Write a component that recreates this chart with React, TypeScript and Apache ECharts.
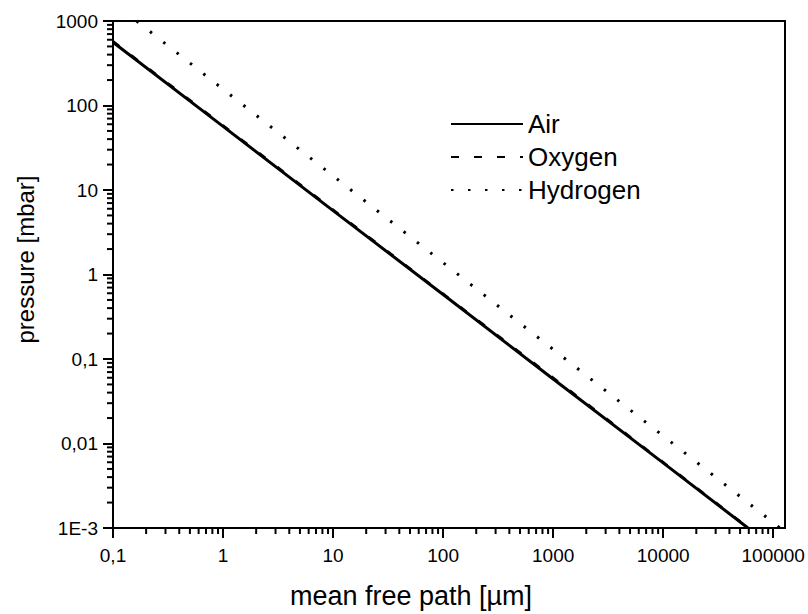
import React, { useEffect, useRef } from "react";
import * as echarts from "echarts";

// Data (mean free path in µm, pressure in mbar)
const airX = [0.1, 1, 10, 100, 1000, 10000, 59000];
const airP = [560, 56.6, 5.7, 0.58, 0.058, 0.0059, 0.001];
const oxygenX = [0.1, 1, 10, 100, 1000, 10000, 60000];
const oxygenP = [575, 58, 5.85, 0.59, 0.06, 0.006, 0.001];
const hydrogenX = [0.164, 1, 10, 100, 1000, 10000, 100000, 115000];
const hydrogenP = [1000, 156, 14.7, 1.38, 0.13, 0.0123, 0.00116, 0.001];

const xMajorTicks = [0.1, 1, 10, 100, 1000, 10000, 100000];
const xTickLabels = ["0,1", "1", "10", "100", "1000", "10000", "100000"];
const yMajorTicks = [0.001, 0.01, 0.1, 1, 10, 100, 1000];
const yTickLabels = ["1E-3", "0,01", "0,1", "1", "10", "100", "1000"];
const minorFactors = [2, 3, 4, 5, 6, 7, 8, 9];

const X_MIN = 0.1;
const X_MAX = 128000;
const Y_MIN = 0.001;
const Y_MAX = 1000;

const FONT = "'Liberation Sans', Arial, sans-serif";

function minorOf(majors: number[], max: number) {
  const out: number[] = [];
  majors.forEach((m) => minorFactors.forEach((f) => { const v = m * f; if (v <= max) out.push(v); }));
  return out;
}

function zipData(xs: number[], ys: number[]) {
  return xs.map((x, i) => [x, ys[i]]);
}

export default function App() {
  const ref = useRef<HTMLDivElement>(null);
  useEffect(() => {
    if (!ref.current) return;
    const chart = echarts.init(ref.current, undefined, { renderer: "svg" });
    const xLabelMap: Record<string, string> = {};
    xMajorTicks.forEach((v, i) => (xLabelMap[String(v)] = xTickLabels[i]));
    const yLabelMap: Record<string, string> = {};
    yMajorTicks.forEach((v, i) => (yLabelMap[String(v)] = yTickLabels[i]));

    const xMinorData = minorOf(xMajorTicks, X_MAX).map((v) => [v, Y_MIN]);
    const yMinorData = minorOf(yMajorTicks, Y_MAX).map((v) => [X_MIN, v]);

    chart.setOption({
      animation: false,
      backgroundColor: "#fff",
      grid: {
        left: 113,
        right: 23,
        top: 21,
        bottom: 81,
        show: true,
        borderColor: "#000",
        borderWidth: 2,
        backgroundColor: "transparent",
      },
      legend: {
        data: ["Air", "Oxygen", "Hydrogen"],
        orient: "vertical",
        left: 445,
        top: 106,
        itemWidth: 72,
        itemHeight: 14,
        itemGap: 7,
        textStyle: { fontFamily: FONT, fontSize: 26, color: "#000" },
        itemStyle: { color: "transparent", borderColor: "transparent", borderWidth: 0 },
        selectedMode: false,
      },
      xAxis: {
        type: "log",
        logBase: 10,
        min: X_MIN,
        max: X_MAX,
        splitLine: { show: false },
        name: "mean free path [µm]",
        nameLocation: "middle",
        nameGap: 54,
        nameTextStyle: { fontFamily: FONT, fontSize: 27, color: "#000", padding: [0, 76, 0, 0] },
        axisLine: { show: true, lineStyle: { color: "#000", width: 2 } },
        axisTick: { show: true, length: 10, lineStyle: { color: "#000", width: 2 }, customValues: xMajorTicks },
        axisLabel: {
          fontFamily: FONT,
          fontSize: 19,
          color: "#000",
          margin: 18,
          customValues: xMajorTicks,
          formatter: (v: number) => xLabelMap[String(v)] ?? "",
        },
      },
      yAxis: {
        type: "log",
        logBase: 10,
        min: Y_MIN,
        max: Y_MAX,
        splitLine: { show: false },
        name: "pressure [mbar]",
        nameLocation: "middle",
        nameGap: 76,
        nameRotate: 90,
        nameTextStyle: { fontFamily: FONT, fontSize: 24, color: "#000", padding: [0, 0, 0, 30] },
        axisLine: { show: true, lineStyle: { color: "#000", width: 2 } },
        axisTick: { show: true, length: 10, lineStyle: { color: "#000", width: 2 }, customValues: yMajorTicks },
        axisLabel: {
          fontFamily: FONT,
          fontSize: 19,
          color: "#000",
          margin: 15,
          customValues: yMajorTicks,
          formatter: (v: number) => yLabelMap[String(v)] ?? "",
        },
      },
      series: [
        {
          name: "Air",
          type: "line",
          data: zipData(airX, airP),
          symbol: "none",
          lineStyle: { color: "#000", width: 3, type: "solid" },
          itemStyle: { color: "#000" },
        },
        {
          name: "Oxygen",
          type: "line",
          data: zipData(oxygenX, oxygenP),
          symbol: "none",
          lineStyle: { color: "#000", width: 2.5, type: [8, 15] },
          itemStyle: { color: "#000" },
        },
        {
          name: "Hydrogen",
          type: "line",
          data: zipData(hydrogenX, hydrogenP),
          symbol: "none",
          lineStyle: { color: "#000", width: 3, type: [2.5, 14.5] },
          itemStyle: { color: "#000" },
        },
        {
          name: "xMinorTicks",
          type: "custom",
          coordinateSystem: "cartesian2d",
          silent: true,
          clip: false,
          z: 10,
          data: xMinorData,
          renderItem: (_params: any, api: any) => {
            const p = api.coord([api.value(0), api.value(1)]);
            return {
              type: "line",
              shape: { x1: p[0], y1: p[1], x2: p[0], y2: p[1] + 6 },
              style: { stroke: "#000", lineWidth: 2 },
            };
          },
        },
        {
          name: "yMinorTicks",
          type: "custom",
          coordinateSystem: "cartesian2d",
          silent: true,
          clip: false,
          z: 10,
          data: yMinorData,
          renderItem: (_params: any, api: any) => {
            const p = api.coord([api.value(0), api.value(1)]);
            return {
              type: "line",
              shape: { x1: p[0], y1: p[1], x2: p[0] - 6, y2: p[1] },
              style: { stroke: "#000", lineWidth: 2 },
            };
          },
        },
      ],
    });
    return () => chart.dispose();
  }, []);
  return <div ref={ref} style={{ position: "fixed", left: 0, top: 0, width: 808, height: 614 }} />;
}
